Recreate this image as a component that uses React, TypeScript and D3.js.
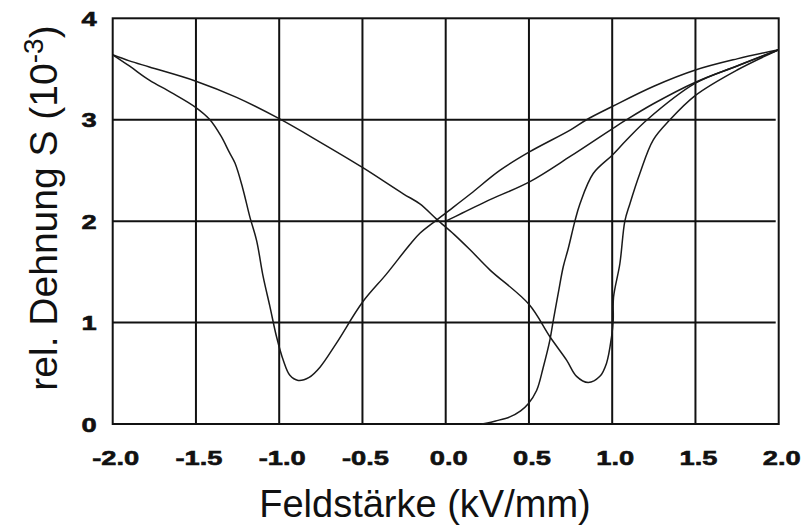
import React, { useEffect } from "react";
import * as d3 from "d3";

const xTicks = [-2.0, -1.5, -1.0, -0.5, 0.0, 0.5, 1.0, 1.5, 2.0];
const yTicks = [0, 1, 2, 3, 4];

// virgin curve (first poling)
const virginCurve: [number, number][] = [
  [0.215, 0.0], [0.25, 0.01], [0.3, 0.03], [0.385, 0.07], [0.45, 0.13], [0.496, 0.2],
  [0.546, 0.33], [0.586, 0.56], [0.626, 0.83], [0.646, 1.02], [0.676, 1.29], [0.706, 1.55],
  [0.736, 1.73], [0.776, 2.0], [0.806, 2.17], [0.886, 2.47], [1.0, 2.65], [1.086, 2.8],
  [1.21, 3.0], [1.5, 3.36], [1.75, 3.53], [2.0, 3.69],
];

// branch from +2 down through 0 to the left minimum and up to -2
const branchA: [number, number][] = [
  [2.0, 3.69], [1.75, 3.6], [1.5, 3.49], [1.25, 3.33], [1.0, 3.13], [0.846, 3.0], [0.75, 2.9],
  [0.5, 2.68], [0.325, 2.5], [0.15, 2.27], [0.0, 2.08], [-0.055, 2.01], [-0.155, 1.88],
  [-0.215, 1.77], [-0.355, 1.48], [-0.5, 1.2], [-0.655, 0.8], [-0.755, 0.56], [-0.82, 0.46],
  [-0.886, 0.43], [-0.936, 0.48], [-0.976, 0.63], [-1.016, 0.86], [-1.056, 1.16], [-1.096, 1.45],
  [-1.136, 1.81], [-1.176, 2.04], [-1.22, 2.33], [-1.265, 2.57], [-1.3, 2.68], [-1.35, 2.84],
  [-1.416, 3.0], [-1.5, 3.12], [-1.65, 3.27], [-1.78, 3.39], [-1.9, 3.53], [-2.0, 3.64],
];

// branch from 0 up to +2
const branchB: [number, number][] = [
  [0.0, 2.0], [0.1, 2.08], [0.25, 2.2], [0.506, 2.39], [0.75, 2.64], [1.0, 2.91], [1.086, 3.0],
  [1.25, 3.16], [1.5, 3.37], [1.75, 3.53], [2.0, 3.69],
];

// branch from -2 down through 0 to the right minimum and up to +2
const branchDesc: [number, number][] = [
  [-2.0, 3.64], [-1.9, 3.58], [-1.78, 3.52], [-1.5, 3.38], [-1.256, 3.22], [-1.0, 3.01],
  [-0.755, 2.78], [-0.5, 2.53], [-0.255, 2.27], [-0.155, 2.17], [-0.055, 2.02], [0.05, 1.87],
  [0.145, 1.72], [0.265, 1.52], [0.5, 1.18], [0.626, 0.86], [0.726, 0.63], [0.786, 0.47],
  [0.856, 0.41], [0.926, 0.47], [0.966, 0.6], [0.996, 0.86], [1.006, 1.02], [1.008, 1.25],
  [1.046, 1.58], [1.076, 2.0], [1.106, 2.17], [1.166, 2.47], [1.246, 2.8], [1.347, 3.0],
  [1.5, 3.24], [1.75, 3.49], [2.0, 3.69],
];

const curves = [virginCurve, branchA, branchB, branchDesc];

const W = 803;
const H = 526;
const left = 112.7;
const right = 778.7;
const top = 18.3;
const bottom = 424;

export default function App() {
  useEffect(() => {
    document.body.style.margin = "0";
  }, []);

  const x = d3.scaleLinear().domain([-2, 2]).range([left, right]);
  const y = d3.scaleLinear().domain([0, 4]).range([bottom, top]);
  const line = d3
    .line<[number, number]>()
    .x((d) => x(d[0]))
    .y((d) => y(d[1]))
    .curve(d3.curveCatmullRom.alpha(0.5));

  const font = "'Liberation Sans', Arial, sans-serif";

  return (
    <svg width={W} height={H} style={{ position: "absolute", left: 0, top: 0, background: "#fff" }}>
      <rect x={0} y={0} width={W} height={H} fill="#fff" />
      {/* grid */}
      {xTicks.slice(1, -1).map((t) => (
        <line key={"gx" + t} x1={x(t)} x2={x(t)} y1={top} y2={bottom} stroke="#111" strokeWidth={2} />
      ))}
      {yTicks.slice(1, -1).map((t) => (
        <line key={"gy" + t} x1={left} x2={right - 3} y1={y(t)} y2={y(t)} stroke="#111" strokeWidth={2} />
      ))}
      <rect x={left} y={top} width={right - left} height={bottom - top} fill="none" stroke="#111" strokeWidth={2} />

      {/* curves */}
      {curves.map((c, i) => (
        <path key={i} d={line(c) || ""} fill="none" stroke="#1a1a1a" strokeWidth={1.5} strokeLinejoin="round" />
      ))}

      {/* x tick labels */}
      {xTicks.map((t) => (
        <text
          key={"xt" + t}
          transform={`translate(${x(t) + 3},${465}) scale(1.3,1)`}
          textAnchor="middle"
          fontFamily={font}
          fontWeight="bold"
          fontSize={21}
          fill="#111"
          stroke="#111"
          strokeWidth={0.6}
        >
          {t.toFixed(1)}
        </text>
      ))}
      {/* y tick labels */}
      {yTicks.map((t) => (
        <text
          key={"yt" + t}
          transform={`translate(${89},${y(t) + 7.5}) scale(1.3,1)`}
          textAnchor="middle"
          fontFamily={font}
          fontWeight="bold"
          fontSize={21}
          fill="#111"
          stroke="#111"
          strokeWidth={0.6}
        >
          {t}
        </text>
      ))}

      {/* axis titles */}
      <text x={425} y={517} textAnchor="middle" fontFamily={font} fontSize={38} fill="#111">
        Feldstärke (kV/mm)
      </text>
      <text
        transform={`translate(57,208) rotate(-90)`}
        textAnchor="middle"
        fontFamily={font}
        fontSize={39}
        fill="#111"
      >
        rel. Dehnung S (10
        <tspan fontSize={28} dy={-14}>-3</tspan>
        <tspan dy={14}>)</tspan>
      </text>
    </svg>
  );
}
